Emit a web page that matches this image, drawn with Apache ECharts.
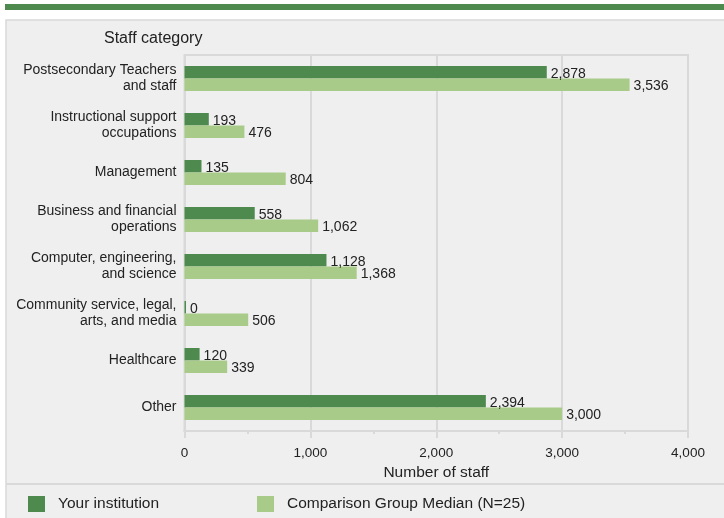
<!DOCTYPE html>
<html>
<head>
<meta charset="utf-8">
<script src="https://cdn.jsdelivr.net/npm/echarts@6/dist/echarts.min.js"></script>
<style>
  html, body { margin: 0; padding: 0; background: #fff; }
  #staff { width: 724px; height: 518px; }
</style>
</head>
<body>
<div id="staff"></div>
<script>
var categories = [
    'Postsecondary Teachers\nand staff',
    'Instructional support\noccupations',
    'Management',
    'Business and financial\noperations',
    'Computer, engineering,\nand science',
    'Community service, legal,\narts, and media',
    'Healthcare',
    'Other'
];
var yourInstitution = [2878, 193, 135, 558, 1128, 0, 120, 2394];
var comparisonMedian = [3536, 476, 804, 1062, 1368, 506, 339, 3000];
var xTicks = [0, 1000, 2000, 3000, 4000];

var darkGreen = '#4e8a4e';
var lightGreen = '#a9cb89';
var gridGrey = '#d9d9d9';
var fontFam = '"Liberation Sans", Arial, sans-serif';

function fmt(v) {
    return Number(v).toLocaleString('en-US');
}

var myChart = echarts.init(document.getElementById('staff'));
myChart.setOption({
    animation: false,
    textStyle: { fontFamily: fontFam },
    graphic: [
        { type: 'rect', z: -10, shape: { x: 5, y: 4, width: 719, height: 6 }, style: { fill: darkGreen } },
        { type: 'rect', z: -10, shape: { x: 6, y: 20, width: 720, height: 502 },
          style: { fill: '#efefef', stroke: gridGrey, lineWidth: 1.5 } },
        { type: 'line', z: -9, shape: { x1: 6, y1: 484, x2: 724, y2: 484 },
          style: { stroke: gridGrey, lineWidth: 2 } }
    ],
    title: {
        text: 'Staff category',
        left: 104,
        top: 31,
        padding: 0,
        textStyle: { fontSize: 16, fontWeight: 'normal', color: '#222', fontFamily: fontFam }
    },
    legend: [
        {
            data: ['Your institution'],
            left: 28, top: 496, padding: 0,
            icon: 'rect', itemWidth: 17, itemHeight: 16,
            textStyle: { fontSize: 15.5, color: '#222', padding: [1, 0, 0, 8], fontFamily: fontFam }
        },
        {
            data: ['Comparison Group Median (N=25)'],
            left: 257, top: 496, padding: 0,
            icon: 'rect', itemWidth: 17, itemHeight: 16,
            textStyle: { fontSize: 15.5, color: '#222', padding: [1, 0, 0, 8], fontFamily: fontFam }
        }
    ],
    grid: {
        left: 184.5,
        right: 36,
        top: 55,
        height: 376,
        show: true,
        backgroundColor: 'transparent',
        borderColor: gridGrey,
        borderWidth: 2
    },
    xAxis: {
        type: 'value',
        min: xTicks[0],
        max: xTicks[xTicks.length - 1],
        interval: 1000,
        name: 'Number of staff',
        nameLocation: 'middle',
        nameGap: 32,
        nameTextStyle: { fontSize: 15.5, color: '#222', fontFamily: fontFam },
        axisLine: { show: true, lineStyle: { color: gridGrey, width: 2 } },
        axisTick: { show: true, length: 7, lineStyle: { color: gridGrey, width: 2 } },
        minorTick: { show: true, splitNumber: 2, length: 3, lineStyle: { color: gridGrey, width: 2 } },
        splitLine: { show: true, lineStyle: { color: gridGrey, width: 2 } },
        axisLabel: { fontSize: 13.5, color: '#222', margin: 15, formatter: fmt }
    },
    yAxis: {
        type: 'category',
        inverse: true,
        data: categories,
        axisLine: { show: true, lineStyle: { color: gridGrey, width: 2 } },
        axisTick: { show: false },
        axisLabel: { fontSize: 14, color: '#222', lineHeight: 16, margin: 8, align: 'right', padding: [4, 0, 0, 0] }
    },
    series: [
        {
            name: 'Your institution',
            type: 'bar',
            data: yourInstitution,
            barWidth: 12.5,
            barGap: '0%',
            barMinHeight: 1.5,
            itemStyle: { color: darkGreen },
            label: {
                show: true, position: 'right', distance: 4, offset: [0, 2],
                fontSize: 14, color: '#222',
                formatter: function (p) { return fmt(p.value); }
            }
        },
        {
            name: 'Comparison Group Median (N=25)',
            type: 'bar',
            data: comparisonMedian,
            barWidth: 12.5,
            barGap: '0%',
            itemStyle: { color: lightGreen },
            label: {
                show: true, position: 'right', distance: 4, offset: [0, 1],
                fontSize: 14, color: '#222',
                formatter: function (p) { return fmt(p.value); }
            }
        }
    ]
});
</script>
</body>
</html>
